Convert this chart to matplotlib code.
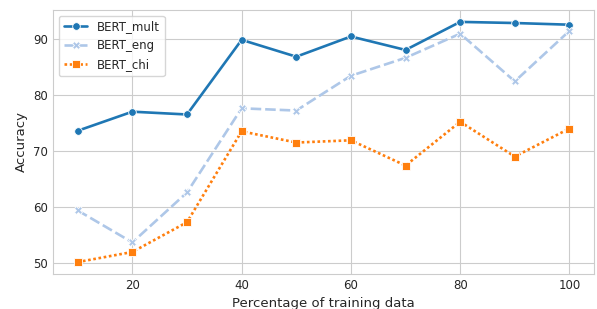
import matplotlib
matplotlib.use("Agg")
import matplotlib.pyplot as plt
import seaborn as sns

pct = [10, 20, 30, 40, 50, 60, 70, 80, 90, 100]
bert_mult = [73.6, 77.0, 76.5, 89.8, 86.8, 90.4, 88.0, 93.0, 92.8, 92.5]
bert_eng = [59.4, 53.7, 62.6, 77.6, 77.2, 83.4, 86.6, 90.9, 82.4, 91.4]
bert_chi = [50.2, 52.0, 57.3, 73.5, 71.5, 71.9, 67.4, 75.2, 69.0, 74.0]

sns.set_style("whitegrid")

fig = plt.figure(figsize=(5.97, 3.09), dpi=100)
ax = fig.add_axes([0.089, 0.113, 0.906, 0.855])

ax.plot(pct, bert_mult, color="#1f77b4", lw=1.9, marker="o", ms=5.5,
        mec="white", mew=0.6, label="BERT_mult")
ax.plot(pct, bert_eng, color="#aec7e8", lw=1.9, marker="X", ms=5.5,
        mec="white", mew=0.6, dashes=(4, 1.5), label="BERT_eng")
ax.plot(pct, bert_chi, color="#ff7f0e", lw=1.9, marker="s", ms=5.5,
        mec="white", mew=0.6, dashes=(1, 1), label="BERT_chi")

ax.set_xticks([20, 40, 60, 80, 100])
ax.set_yticks([50, 60, 70, 80, 90])
ax.tick_params(labelsize=8.5, length=0)
ax.set_xlabel("Percentage of training data", fontsize=9.5)
ax.set_ylabel("Accuracy", fontsize=9.5)
ax.legend(loc="upper left", fontsize=8.5)

fig.savefig("out.png", dpi=100)
